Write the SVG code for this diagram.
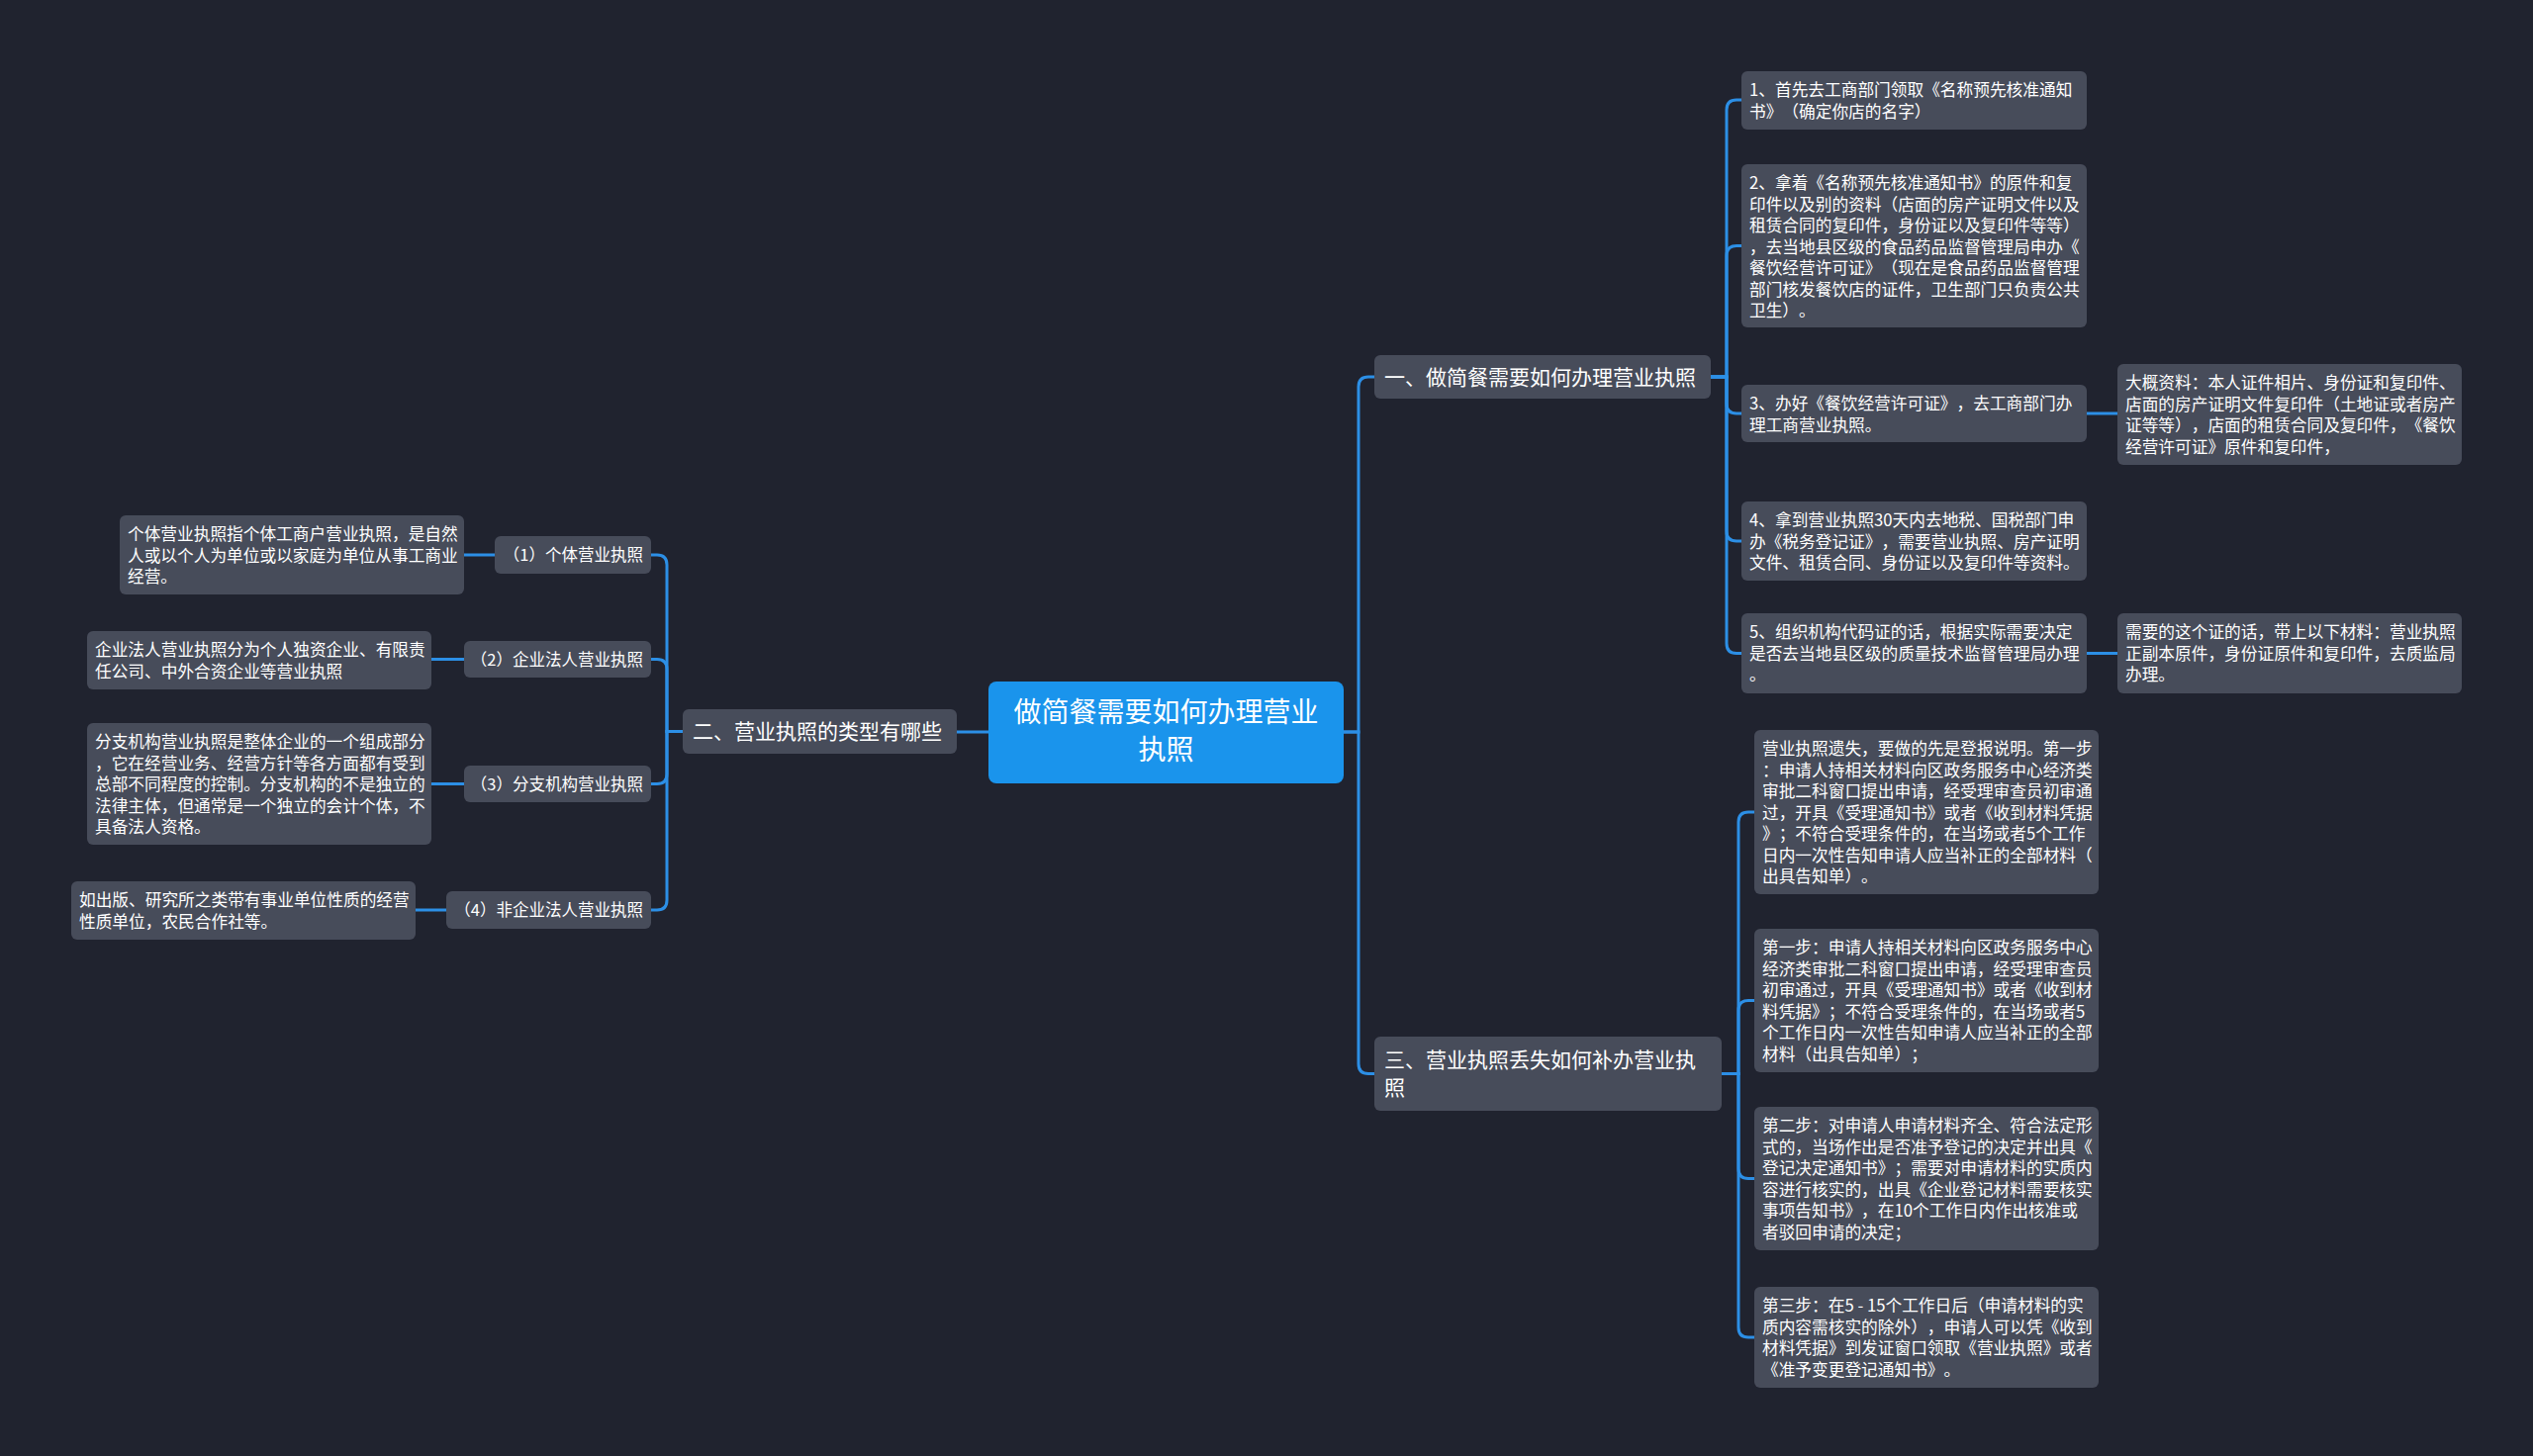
<svg xmlns="http://www.w3.org/2000/svg" width="2560" height="1472" viewBox="0 0 2560 1472">
<style>
text{font-family:"Noto Sans CJK SC","Noto Sans",sans-serif;fill:#ffffff;text-spacing-trim:space-all}
.n rect{fill:#474c5a}
.t{font-size:16.7px}
.b{font-size:21px}
.r{font-size:28px}
.s{font-size:16.5px}
#connectors path{fill:none;stroke:#2c8fe6;stroke-width:3;stroke-linecap:round}
</style>
<rect width="2560" height="1472" fill="#20232f"/>
<g id="connectors">
<path d="M1358,740 H1373 V391 Q1373,381 1383,381 H1389"/>
<path d="M1358,740 H1373 V1075.5 Q1373,1085.5 1383,1085.5 H1389"/>
<path d="M1729,381 H1745 V111 Q1745,101 1755,101 H1760"/>
<path d="M1729,381 H1745 V258.5 Q1745,248.5 1755,248.5 H1760"/>
<path d="M1729,381 H1745 V408 Q1745,418 1755,418 H1760"/>
<path d="M1729,381 H1745 V537 Q1745,547 1755,547 H1760"/>
<path d="M1729,381 H1745 V650.5 Q1745,660.5 1755,660.5 H1760"/>
<path d="M2109,418 H2140"/>
<path d="M2109,660.5 H2140"/>
<path d="M1740,1085.5 H1757 V831 Q1757,821 1767,821 H1773"/>
<path d="M1740,1085.5 H1757 V1021.5 Q1757,1011.5 1767,1011.5 H1773"/>
<path d="M1740,1085.5 H1757 V1181.5 Q1757,1191.5 1767,1191.5 H1773"/>
<path d="M1740,1085.5 H1757 V1342 Q1757,1352 1767,1352 H1773"/>
<path d="M999,740 H967"/>
<path d="M690,739.5 H674 V571 Q674,561 664,561 H658"/>
<path d="M690,739.5 H674 V676.5 Q674,666.5 664,666.5 H658"/>
<path d="M690,739.5 H674 V782.5 Q674,792.5 664,792.5 H658"/>
<path d="M690,739.5 H674 V910 Q674,920 664,920 H658"/>
<path d="M500,561 H469"/>
<path d="M469,666.5 H436"/>
<path d="M469,792.5 H436"/>
<path d="M451,920 H420"/>
</g>
<g id="root">
<rect x="999" y="689" width="359" height="103" rx="8" fill="#1a94ec"/>
<text class="r" x="1178.5" y="730" text-anchor="middle">做简餐需要如何办理营业<tspan x="1178.5" dy="38">执照</tspan></text>
</g>
<g id="b1" class="n">
<rect x="1389" y="359" width="340" height="44" rx="6"/>
<text class="b" x="1399" y="388.5">一、做简餐需要如何办理营业执照</text>
</g>
<g id="b3" class="n">
<rect x="1389" y="1048" width="351" height="75" rx="6"/>
<text class="b" x="1399" y="1078.5">三、营业执照丢失如何补办营业执<tspan x="1399" dy="28">照</tspan></text>
</g>
<g id="b2" class="n">
<rect x="690" y="717" width="277" height="45" rx="6"/>
<text class="b" x="700" y="747">二、营业执照的类型有哪些</text>
</g>
<g id="r1" class="n">
<rect x="1760" y="72" width="349" height="59" rx="6"/>
<text class="t" x="1768" y="97">1、首先去工商部门领取《名称预先核准通知<tspan x="1768" dy="21.5">书》（确定你店的名字）</tspan></text>
</g>
<g id="r2" class="n">
<rect x="1760" y="166" width="349" height="165" rx="6"/>
<text class="t" x="1768" y="191">2、拿着《名称预先核准通知书》的原件和复<tspan x="1768" dy="21.5">印件以及别的资料（店面的房产证明文件以及</tspan><tspan x="1768" dy="21.5">租赁合同的复印件，身份证以及复印件等等）</tspan><tspan x="1768" dy="21.5">，去当地县区级的食品药品监督管理局申办《</tspan><tspan x="1768" dy="21.5">餐饮经营许可证》（现在是食品药品监督管理</tspan><tspan x="1768" dy="21.5">部门核发餐饮店的证件，卫生部门只负责公共</tspan><tspan x="1768" dy="21.5">卫生）。</tspan></text>
</g>
<g id="r3" class="n">
<rect x="1760" y="389" width="349" height="58" rx="6"/>
<text class="t" x="1768" y="414">3、办好《餐饮经营许可证》，去工商部门办<tspan x="1768" dy="21.5">理工商营业执照。</tspan></text>
</g>
<g id="r3c" class="n">
<rect x="2140" y="368" width="348" height="102" rx="6"/>
<text class="t" x="2148" y="393">大概资料：本人证件相片、身份证和复印件、<tspan x="2148" dy="21.5">店面的房产证明文件复印件（土地证或者房产</tspan><tspan x="2148" dy="21.5">证等等），店面的租赁合同及复印件，《餐饮</tspan><tspan x="2148" dy="21.5">经营许可证》原件和复印件，</tspan></text>
</g>
<g id="r4" class="n">
<rect x="1760" y="507" width="349" height="80" rx="6"/>
<text class="t" x="1768" y="532">4、拿到营业执照30天内去地税、国税部门申<tspan x="1768" dy="21.5">办《税务登记证》，需要营业执照、房产证明</tspan><tspan x="1768" dy="21.5">文件、租赁合同、身份证以及复印件等资料。</tspan></text>
</g>
<g id="r5" class="n">
<rect x="1760" y="620" width="349" height="81" rx="6"/>
<text class="t" x="1768" y="645">5、组织机构代码证的话，根据实际需要决定<tspan x="1768" dy="21.5">是否去当地县区级的质量技术监督管理局办理</tspan><tspan x="1768" dy="21.5">。</tspan></text>
</g>
<g id="r5c" class="n">
<rect x="2140" y="620" width="348" height="81" rx="6"/>
<text class="t" x="2148" y="645">需要的这个证的话，带上以下材料：营业执照<tspan x="2148" dy="21.5">正副本原件，身份证原件和复印件，去质监局</tspan><tspan x="2148" dy="21.5">办理。</tspan></text>
</g>
<g id="s1" class="n">
<rect x="1773" y="738" width="348" height="166" rx="6"/>
<text class="t" x="1781" y="763">营业执照遗失，要做的先是登报说明。第一步<tspan x="1781" dy="21.5">：申请人持相关材料向区政务服务中心经济类</tspan><tspan x="1781" dy="21.5">审批二科窗口提出申请，经受理审查员初审通</tspan><tspan x="1781" dy="21.5">过，开具《受理通知书》或者《收到材料凭据</tspan><tspan x="1781" dy="21.5">》；不符合受理条件的，在当场或者5个工作</tspan><tspan x="1781" dy="21.5">日内一次性告知申请人应当补正的全部材料（</tspan><tspan x="1781" dy="21.5">出具告知单）。</tspan></text>
</g>
<g id="s2" class="n">
<rect x="1773" y="939" width="348" height="145" rx="6"/>
<text class="t" x="1781" y="964">第一步：申请人持相关材料向区政务服务中心<tspan x="1781" dy="21.5">经济类审批二科窗口提出申请，经受理审查员</tspan><tspan x="1781" dy="21.5">初审通过，开具《受理通知书》或者《收到材</tspan><tspan x="1781" dy="21.5">料凭据》；不符合受理条件的，在当场或者5</tspan><tspan x="1781" dy="21.5">个工作日内一次性告知申请人应当补正的全部</tspan><tspan x="1781" dy="21.5">材料（出具告知单）；</tspan></text>
</g>
<g id="s3" class="n">
<rect x="1773" y="1119" width="348" height="145" rx="6"/>
<text class="t" x="1781" y="1144">第二步：对申请人申请材料齐全、符合法定形<tspan x="1781" dy="21.5">式的，当场作出是否准予登记的决定并出具《</tspan><tspan x="1781" dy="21.5">登记决定通知书》；需要对申请材料的实质内</tspan><tspan x="1781" dy="21.5">容进行核实的，出具《企业登记材料需要核实</tspan><tspan x="1781" dy="21.5">事项告知书》，在10个工作日内作出核准或</tspan><tspan x="1781" dy="21.5">者驳回申请的决定；</tspan></text>
</g>
<g id="s4" class="n">
<rect x="1773" y="1301" width="348" height="102" rx="6"/>
<text class="t" x="1781" y="1326">第三步：在5 - 15个工作日后（申请材料的实<tspan x="1781" dy="21.5">质内容需核实的除外），申请人可以凭《收到</tspan><tspan x="1781" dy="21.5">材料凭据》到发证窗口领取《营业执照》或者</tspan><tspan x="1781" dy="21.5">《准予变更登记通知书》。</tspan></text>
</g>
<g id="l1" class="n">
<rect x="500" y="542" width="158" height="38" rx="6"/>
<text class="s" x="650" y="567" text-anchor="end">（1）个体营业执照</text>
</g>
<g id="l2" class="n">
<rect x="469" y="648" width="189" height="37" rx="6"/>
<text class="s" x="650" y="672.5" text-anchor="end">（2）企业法人营业执照</text>
</g>
<g id="l3" class="n">
<rect x="469" y="774" width="189" height="37" rx="6"/>
<text class="s" x="650" y="798.5" text-anchor="end">（3）分支机构营业执照</text>
</g>
<g id="l4" class="n">
<rect x="451" y="901" width="207" height="38" rx="6"/>
<text class="s" x="650" y="926" text-anchor="end">（4）非企业法人营业执照</text>
</g>
<g id="l1c" class="n">
<rect x="121" y="521" width="348" height="80" rx="6"/>
<text class="t" x="129" y="546">个体营业执照指个体工商户营业执照，是自然<tspan x="129" dy="21.5">人或以个人为单位或以家庭为单位从事工商业</tspan><tspan x="129" dy="21.5">经营。</tspan></text>
</g>
<g id="l2c" class="n">
<rect x="88" y="638" width="348" height="59" rx="6"/>
<text class="t" x="96" y="663">企业法人营业执照分为个人独资企业、有限责<tspan x="96" dy="21.5">任公司、中外合资企业等营业执照</tspan></text>
</g>
<g id="l3c" class="n">
<rect x="88" y="731" width="348" height="123" rx="6"/>
<text class="t" x="96" y="756">分支机构营业执照是整体企业的一个组成部分<tspan x="96" dy="21.5">，它在经营业务、经营方针等各方面都有受到</tspan><tspan x="96" dy="21.5">总部不同程度的控制。分支机构的不是独立的</tspan><tspan x="96" dy="21.5">法律主体，但通常是一个独立的会计个体，不</tspan><tspan x="96" dy="21.5">具备法人资格。</tspan></text>
</g>
<g id="l4c" class="n">
<rect x="72" y="891" width="348" height="59" rx="6"/>
<text class="t" x="80" y="916">如出版、研究所之类带有事业单位性质的经营<tspan x="80" dy="21.5">性质单位，农民合作社等。</tspan></text>
</g>
</svg>
